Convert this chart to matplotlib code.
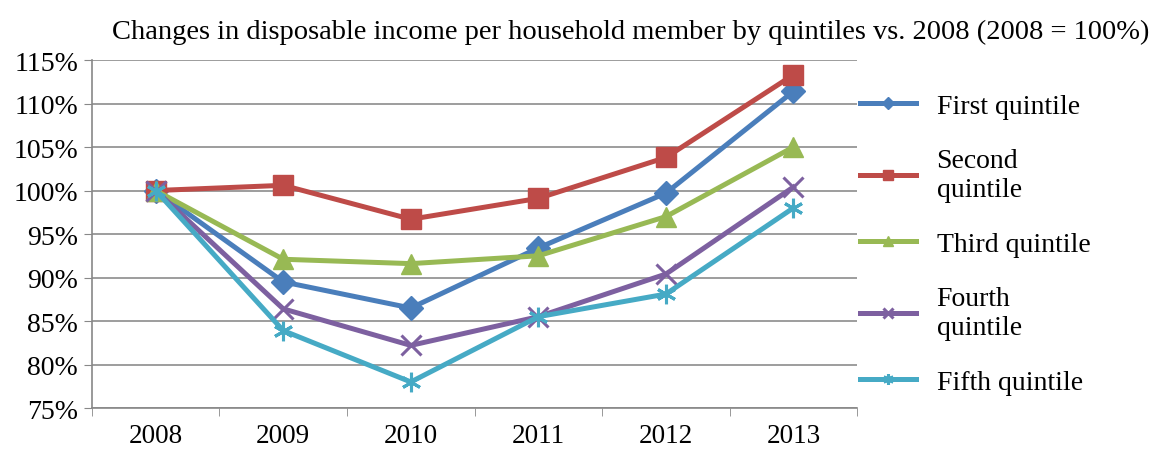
import matplotlib.pyplot as plt
import numpy as np

plt.rcParams['font.family'] = ['Liberation Serif', 'DejaVu Serif']

anios = ['2008', '2009', '2010', '2011', '2012', '2013']
primer = [100.0, 89.5, 86.5, 93.4, 99.7, 111.4]
segundo = [100.0, 100.6, 96.7, 99.1, 103.8, 113.3]
tercero = [100.0, 92.1, 91.6, 92.5, 97.0, 105.0]
cuarto = [100.0, 86.4, 82.2, 85.5, 90.4, 100.4]
quinto = [100.0, 83.9, 78.0, 85.5, 88.1, 98.0]

etiquetas = ['First quintile', 'Second\nquintile', 'Third quintile',
             'Fourth\nquintile', 'Fifth quintile']
series = [primer, segundo, tercero, cuarto, quinto]
colores = ['#4A7EBB', '#BE4B48', '#98B954', '#7D60A0', '#46AAC5']
marcas = ['D', 's', '^', 'x', (6, 2, 0)]
tamanos = [12, 14, 14, 14, 14]

fig = plt.figure(figsize=(11.7, 4.52), dpi=100)
ax = fig.add_axes([0.0786, 0.095, 0.654, 0.77])

x = np.arange(len(anios))
for datos, etq, col, m, t in zip(series, etiquetas, colores, marcas, tamanos):
    ax.plot(x, datos, color=col, lw=3.6, marker=m, markersize=t,
            markeredgewidth=2.2 if m in ('x', (6, 2, 0)) else 1,
            markeredgecolor=col, label=etq, zorder=3)

ax.set_xlim(-0.5, len(anios) - 0.5)
ax.set_ylim(75, 115)
ax.set_yticks(np.arange(75, 116, 5))
ax.set_yticklabels([f'{v}%' for v in range(75, 116, 5)], fontsize=20)
ax.set_xticks(x)
ax.set_xticklabels(anios, fontsize=19.5)
ax.set_xticks(np.arange(-0.5, len(anios), 1), minor=True)
ax.tick_params(axis='x', which='major', length=0, pad=11)
ax.tick_params(axis='x', which='minor', length=6, color='#888888')
ax.tick_params(axis='y', length=6, color='#888888', pad=4)
ax.grid(axis='y', color='#8c8c8c', lw=1.2)
ax.set_axisbelow(True)
for lado in ['top', 'right']:
    ax.spines[lado].set_visible(False)
for lado in ['left', 'bottom']:
    ax.spines[lado].set_color('#888888')
    ax.spines[lado].set_linewidth(1.2)

fig.text(0.539, 0.928, 'Changes in disposable income per household member by quintiles vs. 2008 (2008 = 100%)',
         ha='center', va='center', fontsize=20.5)

leg = ax.legend(loc='upper left', bbox_to_anchor=(1.004, 0.904), frameon=False,
                fontsize=20, handlelength=2.0, handletextpad=0.75,
                labelspacing=1.06, markerscale=0.55, borderaxespad=0,
                borderpad=0)

fig.savefig('out.png', dpi=100)
